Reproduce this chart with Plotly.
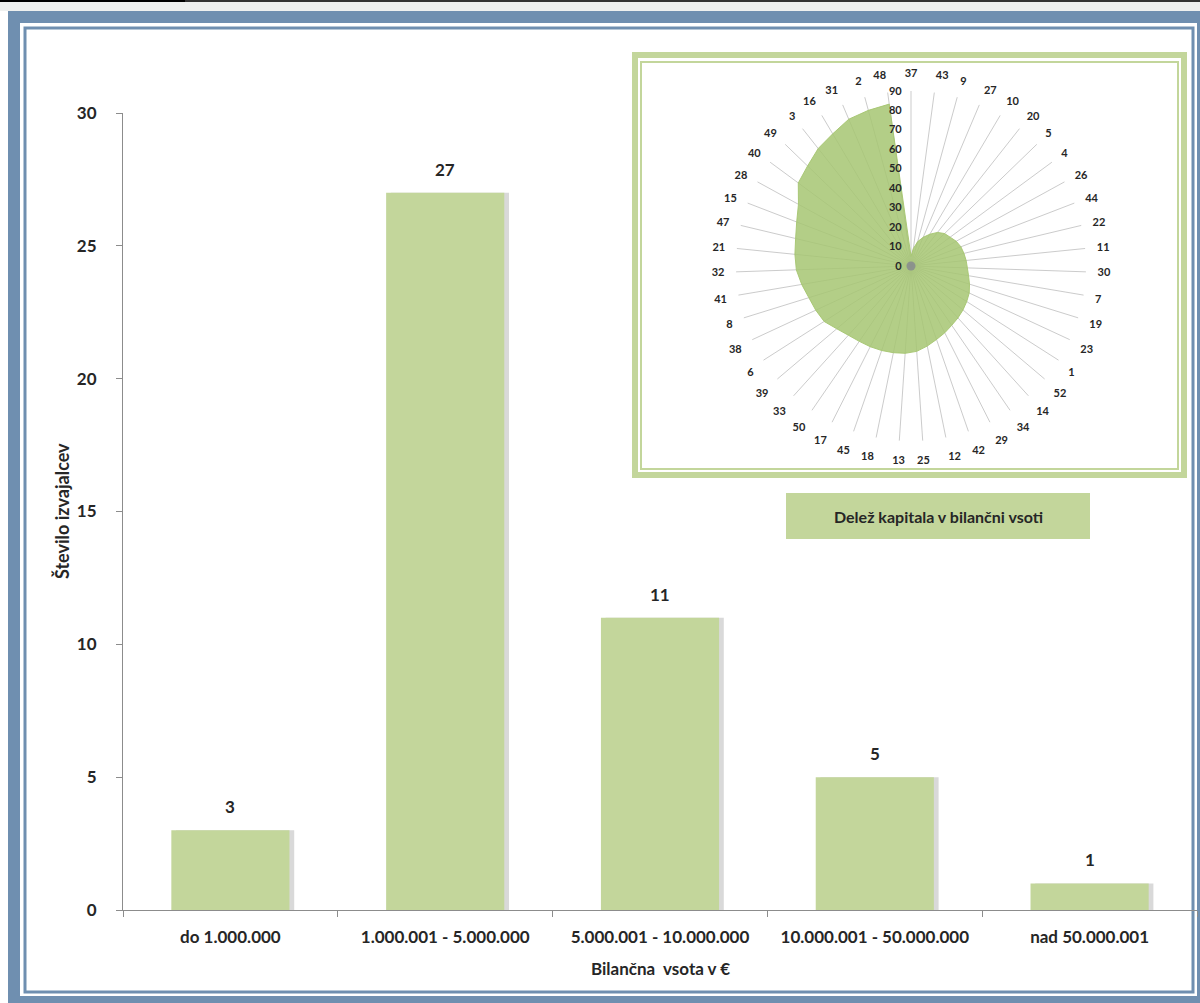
import plotly.graph_objects as go

# ---------------- data ----------------
bar_categories = ["do 1.000.000", "1.000.001 - 5.000.000", "5.000.001 - 10.000.000",
                  "10.000.001 - 50.000.000", "nad 50.000.001"]
bar_values = [3, 27, 11, 5, 1]
y_ticks = [0, 5, 10, 15, 20, 25, 30]

radar_labels = ["37", "43", "9", "27", "10", "20", "5", "4", "26", "44", "22", "11", "30",
                "7", "19", "23", "1", "52", "14", "34", "29", "42", "12", "25", "13", "18",
                "45", "17", "50", "33", "39", "6", "38", "8", "41", "32", "21", "47", "15",
                "28", "40", "49", "3", "16", "31", "2", "48"]
radar_values = [5, 9, 13, 16, 19, 22, 24, 25, 26.5, 27.5, 28, 28.5, 29, 30, 31.5, 33, 34,
                35, 36, 37, 38.5, 40, 42, 44, 45, 45.5, 46, 46.5, 47, 48, 50, 53, 54, 55,
                57, 59, 60, 61, 63, 66, 72, 74, 77, 79, 82, 83, 84]
radar_ticks = [0, 10, 20, 30, 40, 50, 60, 70, 80, 90]

# ---------------- helpers ----------------
W, H = 1200, 1003
def px(x):
    return x / W
def py(y):
    return 1 - y / H

FONT = "Lato"
DARK = "#262626"
BAR_GREEN = "#c3d69b"
BLUE = "#6f8fb0"

fig = go.Figure()

# bar shadow + bars
fig.add_trace(go.Bar(
    x=bar_categories, y=bar_values, width=0.55, offset=-0.275 + 0.022,
    marker=dict(color="rgba(120,120,120,0.28)", line=dict(width=0)),
    hoverinfo="skip", showlegend=False))
fig.add_trace(go.Bar(
    x=bar_categories, y=bar_values, width=0.55, offset=-0.275,
    marker=dict(color=BAR_GREEN, line=dict(width=0)),
    showlegend=False))

# radar
fig.add_trace(go.Scatterpolar(
    r=radar_values + [radar_values[0]], theta=radar_labels + [radar_labels[0]],
    mode="lines", fill="toself", fillcolor="rgba(166,198,114,0.85)",
    line=dict(color="rgba(166,198,114,0.95)", width=1), showlegend=False))
# centre dot of the radar
fig.add_trace(go.Scatterpolar(
    r=[0], theta=[radar_labels[0]], mode="markers",
    marker=dict(size=9, color="rgba(130,130,145,0.75)"), hoverinfo="skip", showlegend=False))

fig.update_layout(
    width=W, height=H,
    margin=dict(l=0, r=0, t=0, b=0, pad=0, autoexpand=False),
    paper_bgcolor="white", plot_bgcolor="rgba(0,0,0,0)",
    barmode="overlay",
    font=dict(family=FONT, color=DARK),
    xaxis=dict(domain=[px(123), px(1197)], showline=True, linecolor="#8c8c8c", linewidth=1,
               ticks="outside", tickson="boundaries", ticklen=6, tickcolor="#8c8c8c",
               tickfont=dict(family=FONT, size=17, color=DARK, weight="bold"),
               ticklabelstandoff=12, showgrid=False, zeroline=False, automargin=False),
    yaxis=dict(domain=[py(910), py(113)], range=[0, 30], tickvals=y_ticks,
               showline=True, linecolor="#8c8c8c", linewidth=1,
               ticks="outside", ticklen=6, tickcolor="#8c8c8c",
               tickfont=dict(family=FONT, size=17, color=DARK, weight="bold"),
               ticklabelstandoff=16, showgrid=False, zeroline=False, automargin=False),
    polar=dict(
        domain=dict(x=[px(736), px(1086)], y=[py(441), py(91)]),
        bgcolor="rgba(0,0,0,0)",
        angularaxis=dict(rotation=90, direction="clockwise", type="category",
                         categoryorder="array", categoryarray=radar_labels,
                         showline=False, ticks="outside", ticklen=9,
                         tickcolor="rgba(0,0,0,0)", gridcolor="rgba(190,190,190,0.8)",
                         gridwidth=1, layer="above traces",
                         tickfont=dict(family=FONT, size=11, color=DARK, weight="bold")),
        radialaxis=dict(range=[0, 90], tickvals=radar_ticks, angle=90, side="counterclockwise",
                        tickangle=90, showline=False, ticks="outside", ticklen=5,
                        tickcolor="rgba(0,0,0,0)", showgrid=False,
                        layer="above traces",
                        tickfont=dict(family=FONT, size=11, color=DARK, weight="bold")),
    ),
)

shapes = []
# top dark strip
shapes.append(dict(type="rect", xref="paper", yref="paper", x0=px(0), x1=px(185), y0=py(4), y1=py(0),
                   fillcolor="black", line=dict(width=0), layer="below"))
shapes.append(dict(type="rect", xref="paper", yref="paper", x0=px(185), x1=px(1200), y0=py(2), y1=py(0),
                   fillcolor="#333333", line=dict(width=0), layer="below"))
shapes.append(dict(type="rect", xref="paper", yref="paper", x0=px(0), x1=px(1200), y0=py(11), y1=py(2),
                   fillcolor="#eef0ef", line=dict(width=0), layer="below"))
# blue frame
shapes.append(dict(type="rect", xref="paper", yref="paper", x0=px(8), x1=px(1200), y0=py(1003), y1=py(11),
                   fillcolor=BLUE, line=dict(width=0), layer="below"))
shapes.append(dict(type="rect", xref="paper", yref="paper", x0=px(20), x1=px(1197), y0=py(996), y1=py(23),
                   fillcolor="white", line=dict(width=0), layer="below"))
shapes.append(dict(type="rect", xref="paper", yref="paper", x0=px(25), x1=px(1193), y0=py(992), y1=py(28),
                   fillcolor="white", line=dict(color=BLUE, width=3), layer="below"))
# green inset frame
shapes.append(dict(type="rect", xref="paper", yref="paper", x0=px(635), x1=px(1184), y0=py(475), y1=py(55),
                   fillcolor="white", line=dict(color=BAR_GREEN, width=6), layer="below"))
shapes.append(dict(type="rect", xref="paper", yref="paper", x0=px(641), x1=px(1178), y0=py(469), y1=py(62),
                   line=dict(color=BAR_GREEN, width=2), layer="below"))
# caption box
shapes.append(dict(type="rect", xref="paper", yref="paper", x0=px(786), x1=px(1090), y0=py(539), y1=py(493),
                   fillcolor=BAR_GREEN, line=dict(width=0), layer="below"))
fig.update_layout(shapes=shapes)

annotations = [
    dict(text="Bilančna  vsota v €", x=px(660), y=py(968), xref="paper", yref="paper",
         xanchor="center", yanchor="middle",
         showarrow=False, font=dict(family=FONT, size=17, color=DARK, weight="bold")),
    dict(text="Število izvajalcev", x=px(62), y=py(511), xref="paper", yref="paper",
         xanchor="center", yanchor="middle",
         showarrow=False, textangle=-90, font=dict(family=FONT, size=18, color=DARK, weight="bold")),
    dict(text="Delež kapitala v bilančni vsoti", x=px(938), y=py(516), xref="paper", yref="paper",
         xanchor="center", yanchor="middle",
         showarrow=False, font=dict(family=FONT, size=16, color=DARK, weight="bold")),
]
# data labels above the bars
for cat, val in zip(bar_categories, bar_values):
    annotations.append(dict(text=str(val), x=cat, y=val, xref="x", yref="y",
                            xanchor="center", yanchor="bottom", yshift=11, showarrow=False,
                            font=dict(family=FONT, size=17, color=DARK, weight="bold")))
fig.update_layout(annotations=annotations)

fig.write_html("out.html", post_script="document.body.style.margin='0';")
